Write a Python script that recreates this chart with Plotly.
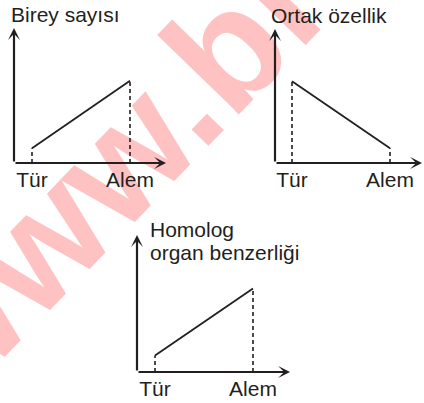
import plotly.graph_objects as go

W, H = 424, 403

kategori = ["Tür", "Alem"]
birey_sayisi = [0.11, 0.61]
ortak_ozellik = [0.61, 0.11]
homolog_benzerlik = [0.12, 0.61]
basliklar = ["Birey sayısı", "Ortak özellik", "Homolog<br>organ benzerliği"]

INK = "#231f20"
FONT = "Liberation Sans, Arial, sans-serif"

# pixel frame of each small graph: origin x, origin y, x arrow tip, y arrow tip,
# offset of first category, offset of second category
frames = [
    (14, 163, 166, 28, 18, 116),
    (275, 163, 422, 29, 17, 115),
    (137, 372, 290, 235, 18, 116),
]
title_shift = [(-5, 0), (-6, 0), (11, -31)]
series = [birey_sayisi, ortak_ozellik, homolog_benzerlik]

fig = go.Figure()

# watermark, kept under the drawing
fig.add_shape(type="rect", xref="paper", yref="paper",
              x0=89.5 / W, x1=89.5 / W, y0=1 - 169 / H, y1=1 - 169 / H,
              line_width=0, layer="below",
              label=dict(text="www.bi", textangle=-46, textposition="middle center",
                         font=dict(size=157, color="#ffc2c2", family=FONT, weight="bold")))

for i, (vals, fr) in enumerate(zip(series, frames)):
    ox, oy, tx, ty, c0, c1 = fr
    n = "" if i == 0 else str(i + 1)
    xa, ya = "x" + n, "y" + n
    step = c1 - c0
    r0 = -c0 / step
    r1 = (tx - ox - c0) / step

    fig.add_trace(go.Scatter(x=kategori, y=vals, mode="lines",
                             line=dict(color=INK, width=1.8),
                             xaxis=xa, yaxis=ya, hoverinfo="skip"))
    for k, v in zip(kategori, vals):
        fig.add_trace(go.Scatter(x=[k, k], y=[0, v], mode="lines",
                                 line=dict(color=INK, width=1.6, dash="4px,3px"),
                                 xaxis=xa, yaxis=ya, hoverinfo="skip"))

    axis = dict(showgrid=False, zeroline=False, showline=False, ticks="",
                fixedrange=True, automargin=False)
    fig.update_layout({
        "xaxis" + n: dict(axis, domain=[ox / W, tx / W], range=[r0, r1], type="category",
                          anchor=ya, ticklabelstandoff=2,
                          tickfont=dict(size=21, color=INK, family=FONT)),
        "yaxis" + n: dict(axis, domain=[1 - oy / H, 1 - ty / H], range=[0, 1],
                          anchor=xa, showticklabels=False),
    })

    # axes drawn as arrows
    for x, y in [(r1, 0), (r0, 1)]:
        fig.add_annotation(x=x, y=y, ax=r0, ay=0, xref=xa, yref=ya, axref=xa, ayref=ya,
                           text="", showarrow=True, arrowhead=3, arrowsize=0.9,
                           arrowwidth=2.2, arrowcolor=INK)

    # axis title, one annotation per line for tighter line spacing
    dx, dy = title_shift[i]
    lines = basliklar[i].split("<br>")
    for j, line in enumerate(lines):
        fig.add_annotation(x=0, y=1, xref=xa + " domain", yref=ya + " domain",
                           text=line, showarrow=False, xanchor="left", yanchor="bottom",
                           xshift=dx, yshift=dy + (len(lines) - 1 - j) * 23,
                           font=dict(size=21, color=INK, family=FONT))

fig.update_layout(width=W, height=H, margin=dict(l=0, r=0, t=0, b=0),
                  paper_bgcolor="white", plot_bgcolor="white", showlegend=False)
fig.write_html("out.html", config={"displayModeBar": False},
               post_script="document.body.style.margin='0';")
